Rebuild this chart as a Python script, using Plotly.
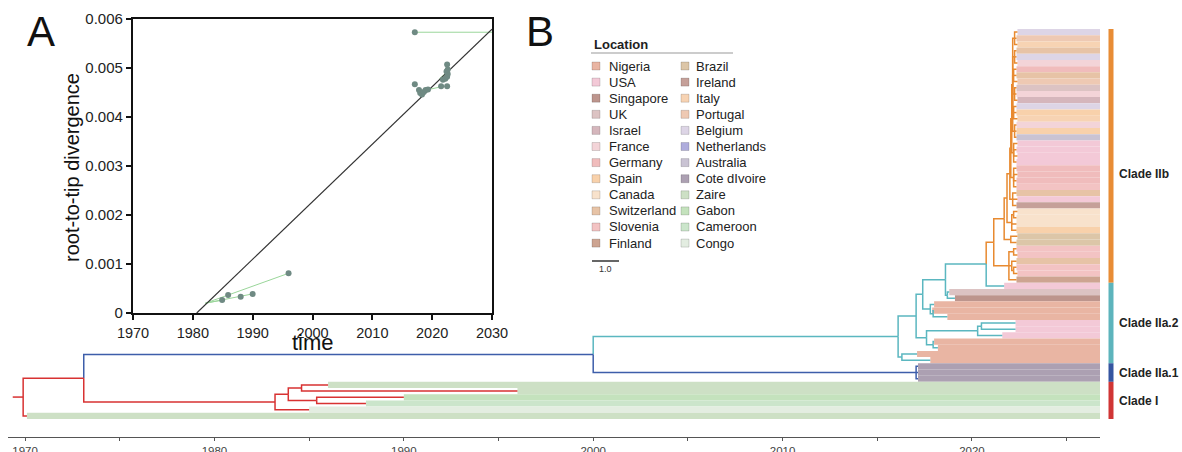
import plotly.graph_objects as go

OFF = 0  # body margin removed by post_script below
W, H = 1182, 452
FONT = "Liberation Sans, Arial, sans-serif"

# ---------------- Panel A : root-to-tip regression ----------------
rtt_years = [1984.9, 1985.9, 1988.0, 1990.0, 1996.0,
             2017.1, 2017.1, 2017.8, 2018.0, 2018.3, 2018.6, 2018.9, 2019.3,
             2021.5, 2022.5, 2021.8, 2022.2, 2022.5, 2022.6, 2022.4, 2022.6, 2022.5]
rtt_div = [0.000265, 0.000367, 0.000333, 0.000388, 0.00081,
           0.00573, 0.00467, 0.00455, 0.00449, 0.00446, 0.00451, 0.00455, 0.00456,
           0.00463, 0.00463, 0.00476, 0.00478, 0.00482, 0.00488, 0.00493, 0.00497, 0.00507]
reg_years = [1980.65, 2030.0]
reg_div = [0.0, 0.00579]
link_x0 = [2017.1, 1982.1, 1982.1, 1982.1, 2019.0, 2021.2]
link_y0 = [0.00573, 0.00020, 0.00020, 0.00020, 0.00455, 0.00478]
link_x1 = [2030.0, 1996.0, 1990.0, 1985.0, 2022.0, 2022.3]
link_y1 = [0.00573, 0.00081, 0.00039, 0.000265, 0.00463, 0.00490]
a_xticks = [1970, 1980, 1990, 2000, 2010, 2020, 2030]
a_yticks = [0, 0.001, 0.002, 0.003, 0.004, 0.005, 0.006]

# ---------------- Locations ----------------
legend_col1 = ["Nigeria", "USA", "Singapore", "UK", "Israel", "France", "Germany",
               "Spain", "Canada", "Switzerland", "Slovenia", "Finland"]
legend_col2 = ["Brazil", "Ireland", "Italy", "Portugal", "Belgium", "Netherlands",
               "Australia", "Cote dIvoire", "Zaire", "Gabon", "Cameroon", "Congo"]
col1_colors = ["#e9b5a3", "#f3c9d7", "#bd958d", "#dcc3c3", "#d5b6bc", "#f3d4d8", "#f0bcbc",
               "#f8d1ab", "#f8e2cc", "#e7c3a6", "#f3c3c3", "#cda491"]
col2_colors = ["#dcc6a8", "#c5a099", "#f7d3b3", "#eec9b3", "#ddd5e6", "#aeacdc",
               "#c9c3d3", "#aca0b2", "#cde0c5", "#c4e2bd", "#cbe5cb", "#e3ede1"]

# ---------------- Tree tips (top to bottom) ----------------
tip_locations = [
    # Clade IIb (41)
    "Belgium", "Portugal", "Italy", "Switzerland", "Belgium", "France", "Germany", "Switzerland",
    "Portugal", "UK", "France", "Israel", "Belgium", "Spain", "Italy", "France", "Spain",
    "Australia", "USA", "USA", "USA", "USA", "Germany", "Germany", "Germany", "Slovenia",
    "Switzerland", "USA", "Ireland", "Canada", "Canada", "Canada", "Spain", "Brazil", "Brazil",
    "Slovenia", "Slovenia", "Switzerland", "Slovenia", "Slovenia", "Finland",
    # Clade IIa.2 (13)
    "USA", "UK", "Singapore", "Nigeria", "Nigeria", "Nigeria", "USA", "USA", "USA",
    "Nigeria", "Nigeria", "Nigeria", "Nigeria",
    # Clade IIa.1 (3)
    "Cote dIvoire", "Cote dIvoire", "Cote dIvoire",
    # Clade I (6)
    "Zaire", "Zaire", "Gabon", "Cameroon", "Congo", "Zaire",
]
tip_times = [
    2022.40, 2022.35, 2022.40, 2022.35, 2022.35, 2022.40, 2022.35, 2022.35, 2022.40, 2022.35,
    2022.35, 2022.40, 2022.35, 2022.35, 2022.40, 2022.35, 2022.35, 2022.35, 2022.40, 2022.35,
    2022.40, 2022.35, 2022.35, 2022.40, 2022.35, 2022.35, 2022.35, 2022.40, 2022.35, 2022.40,
    2022.35, 2022.35, 2022.35, 2022.40, 2022.35, 2022.35, 2022.40, 2022.35, 2022.35, 2022.40,
    2022.35,
    2021.7, 2018.8, 2019.1, 2018.0, 2017.9, 2018.7, 2022.3, 2022.3, 2021.6, 2018.0, 2018.2,
    2017.1, 2017.8,
    2017.15, 2017.15, 2017.15,
    1986.0, 1996.0, 1990.0, 1988.0, 1985.0, 1970.1,
]
clade_names = ["Clade IIb", "Clade IIa.2", "Clade IIa.1", "Clade I"]
clade_tip_counts = [41, 13, 3, 6]
clade_branch_colors = ["#e88a30", "#5bb7c0", "#3d5eaa", "#d83232"]
clade_bar_colors = ["#e88c35", "#5db4bc", "#3555a0", "#d03535"]
clade_label_pos = [23.0, 47.0, 55.0, 59.6]

# ---------------- Tree internal nodes ----------------
node_names = ["root", "n1973", "IIa", "IIa1", "A", "A2", "B", "C", "E", "F", "H", "C2", "C3",
              "D", "D1", "D1a", "D2",
              "b0", "b1", "b2", "b3", "b4", "b5", "b6", "c1", "c2", "c3", "c4", "c5", "c6",
              "gUS", "gDe", "gM", "gCa", "gCa1", "gBr", "gBot", "gB1", "gB2", "gB3",
              "I", "I1", "I2", "I3"]
node_times = [1969.9, 1973.1, 2000.0, 2017.05, 2016.1, 2016.3, 2017.05, 2017.4, 2018.6, 2020.75,
              2018.7, 2017.8, 2017.95, 2017.6, 2020.3, 2020.5, 2017.95,
              2021.15, 2021.7, 2021.85, 2022.0, 2022.05, 2022.1, 2022.15,
              2022.25, 2022.25, 2022.2, 2022.25, 2022.2, 2022.25,
              2022.2, 2022.2, 2022.15, 2022.1, 2022.2, 2022.05, 2021.95, 2022.2, 2022.1, 2022.2,
              1983.2, 1983.9, 1984.6, 1985.4]
node_kids = [["n1973", 62], ["IIa", "I"], ["A", "IIa1"], [54, 55, 56], ["B", "A2"], [52, 53],
             ["C", "D"], ["E", "C2"], ["F", "H"], ["b0", 41], [42, 43], [44, "C3"], [45, 46],
             ["D1", "D2"], ["D1a", 49], [47, 48], [50, 51],
             ["b1", "gBot"], ["b2", "gBr"], ["b3", "gCa"], ["b4", "gM"], ["b5", "gDe"],
             ["b6", "gUS"], ["c1", "c2", "c3", "c4", "c5", "c6"],
             [0, 1, 2], [3, 4, 5], [6, 7, 8], [9, 10, 11], [12, 13, 14], [15, 16, 17],
             [18, 19, 20, 21], [22, 23, 24, 25], [26, 27, 28], ["gCa1", 31, 32], [29, 30],
             [33, 34], ["gB1", "gB2", 40], [35, 36], [37, "gB3"], [38, 39],
             ["I1", 61], ["I2", "I3"], [57, 58], [59, 60]]
node_clade = [3, 3, 2, 2, 1, 1, 1, 1, 1, 1, 1, 1, 1, 1, 1, 1, 1,
              0, 0, 0, 0, 0, 0, 0, 0, 0, 0, 0, 0, 0, 0, 0, 0, 0, 0, 0, 0, 0, 0, 0,
              3, 3, 3, 3]
root_stem_start = 1969.35

# ---------------- helpers (page pixel -> paper fraction) ----------------
def px(x):
    return (x - OFF) / W

def py(y):
    return 1 - (y - OFF) / H

loc_color = dict(zip(legend_col1 + legend_col2, col1_colors + col2_colors))
n_tips = len(tip_locations)
tip_clade = []
for ci, cnt in enumerate(clade_tip_counts):
    tip_clade += [ci] * cnt
nidx = {n: i for i, n in enumerate(node_names)}
_ycache = {}

def y_of(k):
    if isinstance(k, int):
        return float(k)
    if k not in _ycache:
        kids = node_kids[nidx[k]]
        _ycache[k] = (y_of(kids[0]) + y_of(kids[-1])) / 2.0
    return _ycache[k]

def t_of(k):
    return tip_times[k] if isinstance(k, int) else node_times[nidx[k]]

def clade_of(k):
    return tip_clade[k] if isinstance(k, int) else node_clade[nidx[k]]

TREE_END = 2026.76
TIP0_PX, TIP_STEP = 32.1, 6.19
fig = go.Figure()

# tip colour bars
fig.add_trace(go.Bar(
    orientation="h", y=list(range(n_tips)),
    x=[TREE_END - t for t in tip_times], base=tip_times,
    width=1.0, marker=dict(color=[loc_color[l] for l in tip_locations], line=dict(width=0)),
    xaxis="x2", yaxis="y2", hoverinfo="skip"))

# tree branches
seg = {i: ([], []) for i in range(4)}
for name in node_names:
    tn, yn = t_of(name), y_of(name)
    for k in node_kids[nidx[name]]:
        xs, ys = seg[clade_of(k)]
        xs += [tn, tn, t_of(k), None]
        ys += [yn, y_of(k), y_of(k), None]
xs, ys = seg[clade_of("root")]
xs += [root_stem_start, t_of("root"), None]
ys += [y_of("root"), y_of("root"), None]
for ci in range(4):
    xs, ys = seg[ci]
    fig.add_trace(go.Scatter(x=xs, y=ys, mode="lines", xaxis="x2", yaxis="y2",
                             line=dict(color=clade_branch_colors[ci], width=1.5),
                             hoverinfo="skip"))

# panel A traces
for i in range(len(link_x0)):
    fig.add_trace(go.Scatter(x=[link_x0[i], link_x1[i]], y=[link_y0[i], link_y1[i]],
                             mode="lines", line=dict(color="#9ad69a", width=1),
                             xaxis="x", yaxis="y", hoverinfo="skip"))
fig.add_trace(go.Scatter(x=reg_years, y=reg_div, mode="lines",
                         line=dict(color="#333333", width=1.2), xaxis="x", yaxis="y"))
fig.add_trace(go.Scatter(x=rtt_years, y=rtt_div, mode="markers",
                         marker=dict(color="#6f8a83", size=6), xaxis="x", yaxis="y"))

shapes = []
annotations = []

def note(text, x, y, size, xanchor="center", yanchor="middle", color="#222", angle=0, yref="paper"):
    annotations.append(dict(text=text, xref="paper", yref=yref, x=x, y=y, xanchor=xanchor,
                            yanchor=yanchor, showarrow=False, textangle=angle,
                            font=dict(family=FONT, size=size, color=color)))

# clade bars & labels
start = -0.5
for ci, cnt in enumerate(clade_tip_counts):
    shapes.append(dict(type="line", xref="paper", yref="y2", x0=px(1111), x1=px(1111),
                       y0=start, y1=start + cnt, line=dict(color=clade_bar_colors[ci], width=5)))
    start += cnt
    note("<b>%s</b>" % clade_names[ci], px(1117), clade_label_pos[ci], 12,
         xanchor="left", yref="y2")

# legend
note("<b>Location</b>", px(592), py(45), 13, xanchor="left")
shapes.append(dict(type="line", xref="paper", yref="paper", x0=px(591), x1=px(733),
                   y0=py(53), y1=py(53), line=dict(color="#999", width=1)))
for col, (names, cols, sx, tx) in enumerate([(legend_col1, col1_colors, 592, 607),
                                             (legend_col2, col2_colors, 681, 694)]):
    for r, (nm, c) in enumerate(zip(names, cols)):
        yc = 66 + r * 16.1
        shapes.append(dict(type="rect", xref="paper", yref="paper",
                           x0=px(sx), x1=px(sx + 8), y0=py(yc - 4), y1=py(yc + 4),
                           fillcolor=c, line=dict(color="rgba(0,0,0,0.25)", width=0.6)))
        note(nm, px(tx), py(yc), 13, xanchor="left")
# scale bar
shapes.append(dict(type="line", xref="paper", yref="paper", x0=px(592), x1=px(619),
                   y0=py(261), y1=py(261), line=dict(color="#333", width=1.5)))
note("1.0", px(605), py(269), 9, color="#333")

# panel labels and axis titles
note("A", px(41), py(31), 42, color="#111")
note("B", px(540), py(31), 42, color="#111")
note("root-to-tip divergence", px(72), py(168), 20, color="#111", angle=-90)
note("time", px(313), py(342), 22, color="#111")

axA = dict(showline=True, mirror=True, linewidth=2.2, linecolor="#111", ticks="outside",
           ticklen=5, tickwidth=1.5, tickcolor="#111", showgrid=False, zeroline=False,
           automargin=False, tickfont=dict(family=FONT, size=15, color="#222"))

fig.update_layout(
    width=W, height=H, margin=dict(l=0, r=0, t=0, b=0, pad=0, autoexpand=False),
    paper_bgcolor="white", plot_bgcolor="rgba(0,0,0,0)", showlegend=False,
    xaxis=dict(axA, domain=[px(133), px(492)], range=[1970, 2030], tickvals=a_xticks,
               anchor="y", tickfont=dict(family=FONT, size=14.5, color="#222")),
    yaxis=dict(axA, domain=[py(313), py(19)], range=[0, 0.006], tickvals=a_yticks,
               ticktext=[("%g" % v) for v in a_yticks], anchor="x"),
    xaxis2=dict(domain=[px(8), px(1100)], range=[1969.10, TREE_END], anchor="y2",
                showline=True, linecolor="#555", linewidth=1.2, ticks="outside", ticklen=3,
                tickcolor="#555", tickvals=[1970, 1980, 1990, 2000, 2010, 2020],
                minor=dict(tickvals=[1975, 1985, 1995, 2005, 2015, 2025], ticks="outside",
                           ticklen=3, tickcolor="#555"),
                showgrid=False, zeroline=False, automargin=False,
                tickfont=dict(family=FONT, size=11.5, color="#444")),
    yaxis2=dict(domain=[py(437), py(0)],
                range=[(437 - TIP0_PX) / TIP_STEP, (0 - TIP0_PX) / TIP_STEP],
                visible=False, anchor="x2", automargin=False),
    shapes=shapes, annotations=annotations,
)

fig.write_html("out.html", config={"displayModeBar": False},
               post_script="document.body.style.margin='0';document.body.style.overflow='hidden';")
